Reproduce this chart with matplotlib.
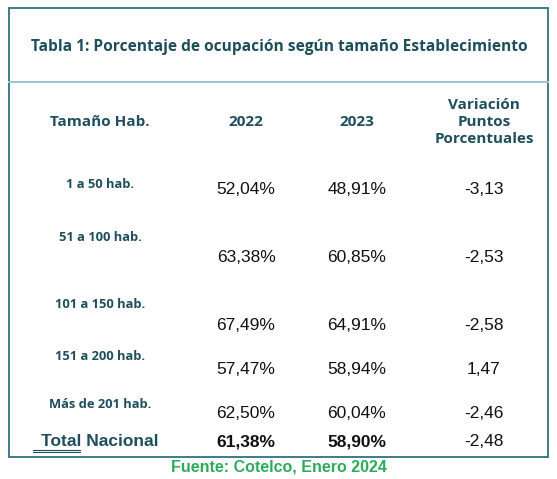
import matplotlib
matplotlib.use("Agg")
import matplotlib.pyplot as plt

title = "Tabla 1: Porcentaje de ocupación según tamaño Establecimiento"
headers = ["Tamaño Hab.", "2022", "2023", "Variación\nPuntos\nPorcentuales"]
categories = ["1 a 50 hab.", "51 a 100 hab.", "101 a 150 hab.", "151 a 200 hab.", "Más de 201 hab."]
v2022 = ["52,04%", "63,38%", "67,49%", "57,47%", "62,50%"]
v2023 = ["48,91%", "60,85%", "64,91%", "58,94%", "60,04%"]
var = ["-3,13", "-2,53", "-2,58", "1,47", "-2,46"]
total = ["Total Nacional", "61,38%", "58,90%", "-2,48"]
source = "Fuente: Cotelco, Enero 2024"

W, H = 557, 479
fig = plt.figure(figsize=(W/100, H/100), dpi=100)
ax = fig.add_axes([0, 0, 1, 1])
ax.set_xlim(0, W); ax.set_ylim(H, 0); ax.axis("off")

teal = "#1f4f5c"
border = "#2f6f85"
ax.add_patch(plt.Rectangle((9, 8), 539, 449, fill=False, ec=border, lw=1.3))
ax.plot([9, 548], [82, 82], color="#9cc6d2", lw=1.5)

hf = ["Open Sans", "DejaVu Sans"]
ax.text(279, 47, title, ha="center", va="center", fontsize=11.2, fontweight="bold", color=teal, family=hf)

cx = [100, 246, 357, 484]
for i, h in enumerate(headers):
    ax.text(cx[i], 122, h, ha="center", va="center", fontsize=11, fontweight="bold",
            color=teal, family=hf, linespacing=1.3)

label_y = [185, 237, 304, 356, 405]
val_y = [190, 258, 325, 369, 413]
nf = "Liberation Sans"
for i, c in enumerate(categories):
    ax.text(cx[0], label_y[i], c, ha="center", va="center", fontsize=9.3, fontweight="bold", color=teal, family=hf)
    for j, col in enumerate([v2022, v2023, var]):
        ax.text(cx[j+1], val_y[i], col[i], ha="center", va="center", fontsize=12.5, color="#111111", family=nf)

ax.text(cx[0], 441, total[0], ha="center", va="center", fontsize=12.5, fontweight="heavy", color=teal, family=nf)
ax.plot([33, 80], [450, 450], color=teal, lw=0.8)
ax.plot([33, 80], [452, 452], color=teal, lw=0.8)
for j in range(1, 4):
    ax.text(cx[j], 442, total[j], ha="center", va="center", fontsize=12.5,
            fontweight="bold" if j < 3 else "normal", color="#111111", family=nf)

ax.text(279, 467, source, ha="center", va="center", fontsize=11.5, fontweight="bold", color="#2eaa5c", family=nf)

fig.savefig("out.png", dpi=100, facecolor="white")
